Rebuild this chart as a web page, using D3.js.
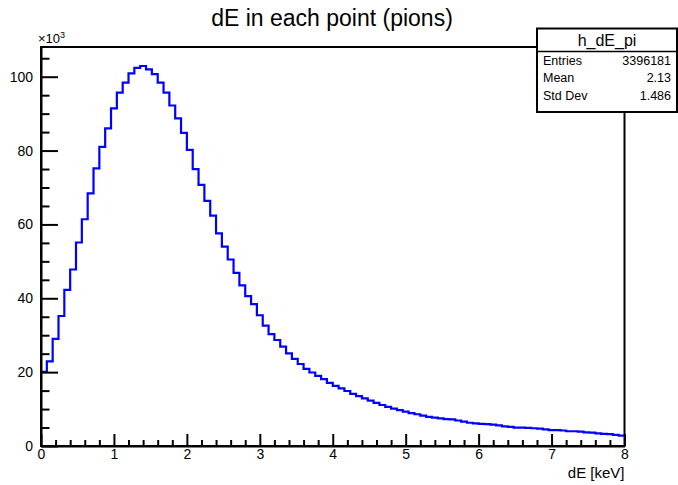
<!DOCTYPE html>
<html>
<head>
<meta charset="utf-8">
<script src="https://cdn.jsdelivr.net/npm/d3@7"></script>
<style>
  html, body { margin: 0; padding: 0; background: #fff; }
  svg { display: block; font-family: "Liberation Sans", Arial, Helvetica, sans-serif; }
</style>
</head>
<body>
<svg id="chart" width="678" height="485"></svg>
<script>
// Histogram h_dE_pi: 100 bins over 0–8 keV, counts in units of 10^3
const binLow = 0;
const binHigh = 8;
const counts = [
  20.1, 22.9, 29.0, 35.2, 42.3, 47.8, 55.1, 61.4, 68.4, 75.2,
  81.0, 86.0, 91.4, 95.7, 98.4, 100.9, 102.4, 102.9, 102.0, 100.7,
  98.4, 95.7, 92.2, 88.7, 84.8, 80.2, 75.0, 70.7, 66.4, 62.4,
  57.6, 54.0, 50.5, 46.9, 43.5, 40.6, 38.4, 35.4, 32.6, 30.3,
  28.7, 26.9, 25.1, 23.6, 22.2, 20.9, 19.9, 19.0, 18.1, 17.1,
  16.3, 15.6, 14.9, 14.1, 13.5, 12.9, 12.3, 11.7, 11.1, 10.6,
  10.1, 9.7, 9.3, 8.9, 8.6, 8.2, 7.9, 7.7, 7.5, 7.3,
  7.2, 6.9, 6.6, 6.3, 6.1, 6.0, 5.9, 5.8, 5.6, 5.3,
  5.2, 5.0, 5.0, 4.9, 4.8, 4.7, 4.5, 4.3, 4.3, 4.2,
  4.0, 4.0, 3.9, 3.7, 3.6, 3.4, 3.3, 3.2, 3.0, 2.8
];
const xTicks = [0, 1, 2, 3, 4, 5, 6, 7, 8];
const yTicks = [0, 20, 40, 60, 80, 100];
const statsLabels = ["Entries", "Mean", "Std Dev"];
const statsValues = ["3396181", "2.13", "1.486"];
const histName = "h_dE_pi";
const title = "dE in each point (pions)";
const xTitle = "dE [keV]";

const svg = d3.select("#chart");
const frame = { left: 41, right: 624.5, top: 47, bottom: 446 };
const yMax = d3.max(counts) * 1.05;

const x = d3.scaleLinear().domain([binLow, binHigh]).range([frame.left, frame.right]);
const y = d3.scaleLinear().domain([0, yMax]).range([frame.bottom, frame.top]);

// Frame
svg.append("rect")
  .attr("x", frame.left).attr("y", frame.top)
  .attr("width", frame.right - frame.left).attr("height", frame.bottom - frame.top)
  .attr("fill", "none").attr("stroke", "#000").attr("stroke-width", 2);

// Histogram outline as a step path
const nBins = counts.length;
const bw = (binHigh - binLow) / nBins;
let d = "";
counts.forEach((c, i) => {
  const x0 = x(binLow + i * bw), x1 = x(binLow + (i + 1) * bw);
  d += (i === 0 ? "M" : "L") + x0 + "," + y(c) + "L" + x1 + "," + y(c);
});
svg.append("path").attr("d", d)
  .attr("fill", "none").attr("stroke", "#0000ff").attr("stroke-width", 2.2)
  .attr("stroke-linejoin", "miter");

// X axis: major ticks with labels, minor ticks every 0.2
const xMinor = d3.range(0, 8.0001, 0.2).filter(v => Math.abs(v - Math.round(v)) > 1e-6);
const xAxisG = svg.append("g").attr("transform", `translate(0,${frame.bottom})`);
xAxisG.call(d3.axisBottom(x).tickValues(xTicks).tickFormat(d3.format("d"))
  .tickSizeInner(-12).tickSizeOuter(0).tickPadding(3));
xAxisG.append("g").call(d3.axisBottom(x).tickValues(xMinor).tickFormat("")
  .tickSizeInner(-6).tickSizeOuter(0))
  .select(".domain").remove();

// Y axis: major ticks with labels, minor ticks every 5
const yMinor = d3.range(0, 106, 5).filter(v => v % 20 !== 0);
const yAxisG = svg.append("g").attr("transform", `translate(${frame.left},0)`);
yAxisG.call(d3.axisLeft(y).tickValues(yTicks).tickFormat(d3.format("d"))
  .tickSizeInner(-17).tickSizeOuter(0).tickPadding(8));
yAxisG.append("g").call(d3.axisLeft(y).tickValues(yMinor).tickFormat("")
  .tickSizeInner(-8.5).tickSizeOuter(0))
  .select(".domain").remove();

svg.selectAll(".tick line").attr("stroke", "#000").attr("stroke-width", 2);
svg.selectAll(".domain").attr("stroke", "#000").attr("stroke-width", 2);
svg.selectAll(".tick text").attr("fill", "#000").attr("font-size", 14)
  .attr("font-family", "Liberation Sans, Arial, sans-serif");

// Exponent marker for the y axis
const expo = svg.append("text").attr("x", 38).attr("y", 43)
  .attr("font-size", 13).attr("fill", "#000");
expo.append("tspan").text("\u00d710");
expo.append("tspan").attr("font-size", 9).attr("dy", -5).text("3");

// Axis title
svg.append("text").attr("x", frame.right).attr("y", 478)
  .attr("text-anchor", "end").attr("font-size", 15).attr("fill", "#000")
  .text(xTitle);

// Chart title
svg.append("text").attr("x", 332).attr("y", 26)
  .attr("text-anchor", "middle").attr("font-size", 23).attr("fill", "#000")
  .text(title);

// Statistics box
const box = { left: 537, right: 677, top: 28.5, bottom: 112, header: 51.5 };
svg.append("rect")
  .attr("x", box.left).attr("y", box.top)
  .attr("width", box.right - box.left).attr("height", box.bottom - box.top)
  .attr("fill", "#fff").attr("stroke", "#000").attr("stroke-width", 2);
svg.append("line")
  .attr("x1", box.left).attr("x2", box.right)
  .attr("y1", box.header).attr("y2", box.header)
  .attr("stroke", "#000").attr("stroke-width", 1.5);
svg.append("text").attr("x", (box.left + box.right) / 2).attr("y", 46)
  .attr("text-anchor", "middle").attr("font-size", 16).attr("fill", "#000")
  .text(histName);
const rowY = [64.5, 82, 100];
statsLabels.forEach((lab, i) => {
  svg.append("text").attr("x", 543).attr("y", rowY[i])
    .attr("font-size", 12.5).attr("fill", "#000").text(lab);
  svg.append("text").attr("x", 671).attr("y", rowY[i])
    .attr("text-anchor", "end").attr("font-size", 12.5).attr("fill", "#000")
    .text(statsValues[i]);
});
</script>
</body>
</html>
